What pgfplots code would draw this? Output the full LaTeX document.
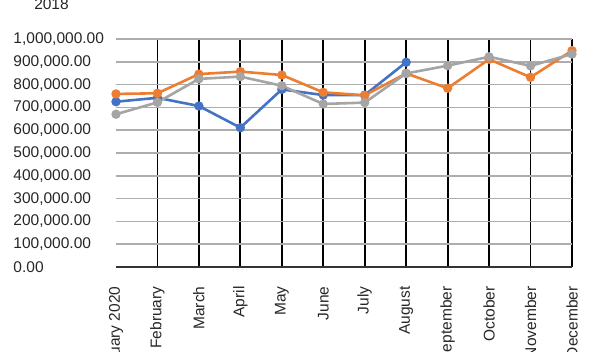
\documentclass[border=0pt]{standalone}
\usepackage{fontspec}
\setmainfont{Liberation Sans}
\usepackage{pgfplots}
\pgfplotsset{compat=1.18}
\definecolor{cblue}{HTML}{4472C4}
\definecolor{corange}{HTML}{ED7D31}
\definecolor{cgray}{HTML}{A5A5A5}
\definecolor{gridgray}{HTML}{ADADAD}
\begin{document}
\begin{tikzpicture}[x=1pt,y=1pt]
\begin{axis}[
  at={(0,0)}, anchor=south west,
  scale only axis, width=456pt, height=228pt,
  xmin=0, xmax=11, ymin=0, ymax=1000000,
  clip=false,
  axis x line*=bottom, axis y line*=left,
  y axis line style={draw=none},
  x axis line style={-, draw=black!80, line width=1.8pt},
  xtick={1,2,3,4,5,6,7,8,9,10,11},
  xticklabels={February,March,April,May,June,July,August,September,October,November,December},
  extra x ticks={0},
  extra x tick labels={January 2020},
  extra x tick style={grid=none},
  xmajorgrids,
  x grid style={draw=black, line width=1.8pt},
  ytick={0,100000,200000,300000,400000,500000,600000,700000,800000,900000,1000000},
  ymajorgrids,
  y grid style={draw=gridgray, line width=1.5pt},
  major tick length=0pt,
  scaled y ticks=false,
  /pgf/number format/.cd, fixed, fixed zerofill, precision=2, 1000 sep={,}, assume math mode=true,
  /pgfplots/.cd,
  tick label style={font=\fontsize{15.5pt}{18pt}\selectfont, text=black!85},
  yticklabel style={text width=99pt, align=left},
  xticklabel style={yshift=-16pt, rotate=90, anchor=east},
  every axis plot/.append style={line width=2.6pt, mark=*, mark size=3.3pt},
]
\addplot[cblue, mark options={fill=cblue}] coordinates {
(0,725000) (1,742000) (2,706000) (3,611000) (4,779000) (5,754000) (6,754000) (7,898000)};
\addplot[corange, mark options={fill=corange}] coordinates {
(0,759000) (1,762000) (2,846000) (3,857000) (4,842000) (5,766000) (6,753000) (7,849000) (8,784000) (9,911000) (10,832000) (11,949000)};
\addplot[cgray, mark options={fill=cgray}] coordinates {
(0,670000) (1,722000) (2,825000) (3,835000) (4,795000) (5,715000) (6,721000) (7,849000) (8,883000) (9,922000) (10,882000) (11,934000)};
\end{axis}
\node[anchor=base, font=\fontsize{15.5pt}{18pt}\selectfont, text=black!85] at (-64.5pt,257.5pt) {2018};
\pgfresetboundingbox
\useasboundingbox (-116pt,-85pt) rectangle (484pt,267pt);
\end{tikzpicture}
\end{document}
